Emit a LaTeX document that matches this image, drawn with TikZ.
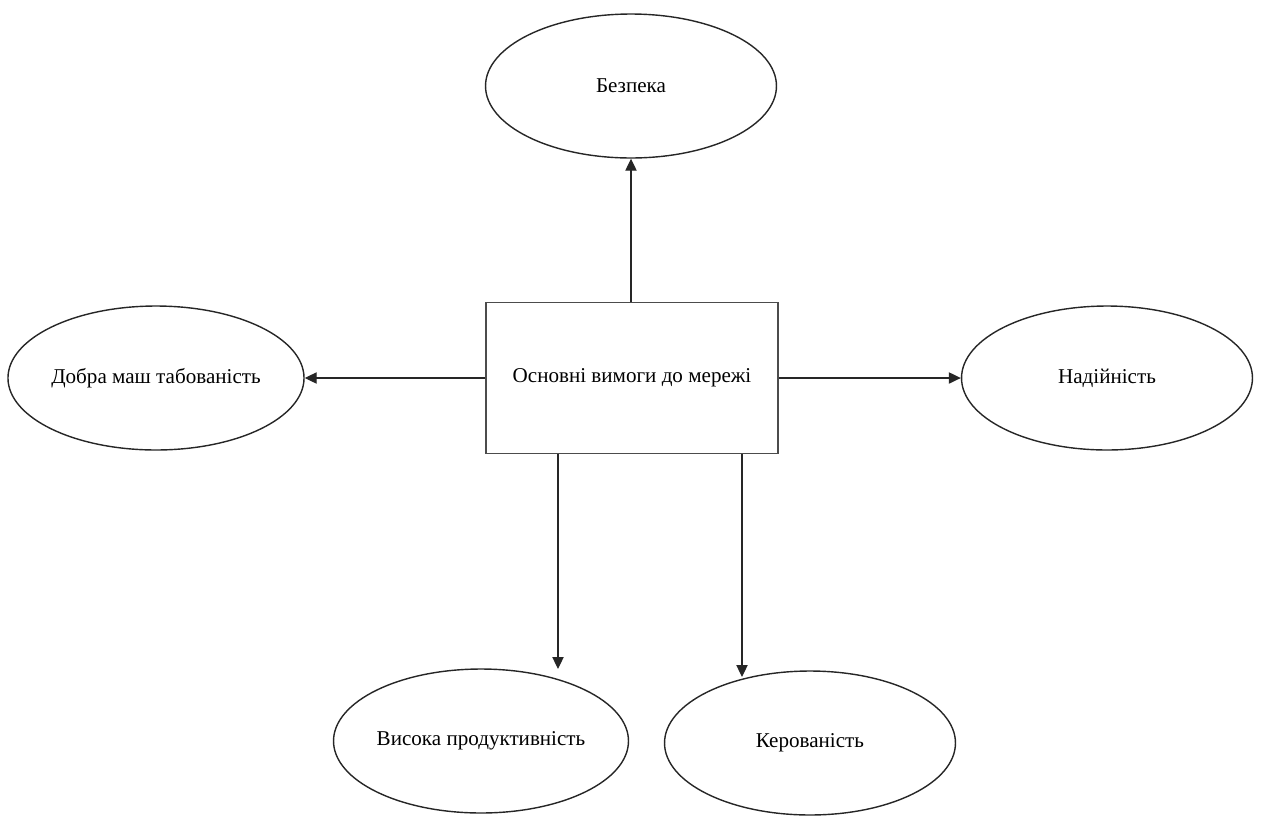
\documentclass[tikz,border=0pt]{standalone}
\usepackage{fontspec}
\setmainfont{Liberation Serif}
\usepackage{tikz}
\usetikzlibrary{
    arrows.meta,
    shapes.geometric,
    positioning
}
\tikzstyle{goal} = [
    ellipse,
    draw=black!85,
    line width=0.8pt,
    minimum width=5.82cm,
    minimum height=2.88cm,
    inner sep=0pt,
    font=\fontsize{12}{14}\selectfont
]
\tikzstyle{core} = [
    rectangle,
    draw=black!70,
    line width=0.9pt,
    minimum width=5.84cm,
    minimum height=3.02cm,
    inner sep=0pt,
    font=\fontsize{12}{14}\selectfont
]
\tikzstyle{flow} = [
    -{Triangle[length=6.8pt, width=6.4pt]},
    line width=0.7pt,
    draw=black!85
]

\begin{document}
\begin{tikzpicture}[x=0.02cm, y=-0.02cm]
        \useasboundingbox (0,0) rectangle (1262,816);

        % Main requirement
        \node[core] (main) at (632, 378) {Основні вимоги до мережі};

        % Requirements around it
        \node[goal] (safe) at (631, 86) {Безпека};
        \node[goal] (scale) at (156, 378) {Добра маш табованість};
        \node[goal] (rely) at (1107, 378) {Надійність};
        \node[goal] (perf) at (481, 741) {Висока продуктивність};
        \node[goal] (ctrl) at (810, 743) {Керованість};

        % Ends of the lower arrows
        \coordinate (perftop) at (558, 669);
        \coordinate (ctrltop) at (742, 677);

        % Arrows
        \draw[flow] (main.north -| safe) -- (safe);
        \draw[flow] (main) -- (scale);
        \draw[flow] (main) -- (rely);
        \draw[flow] (main.south -| perftop) -- (perftop);
        \draw[flow] (main.south -| ctrltop) -- (ctrltop);
    \end{tikzpicture}
\end{document}
